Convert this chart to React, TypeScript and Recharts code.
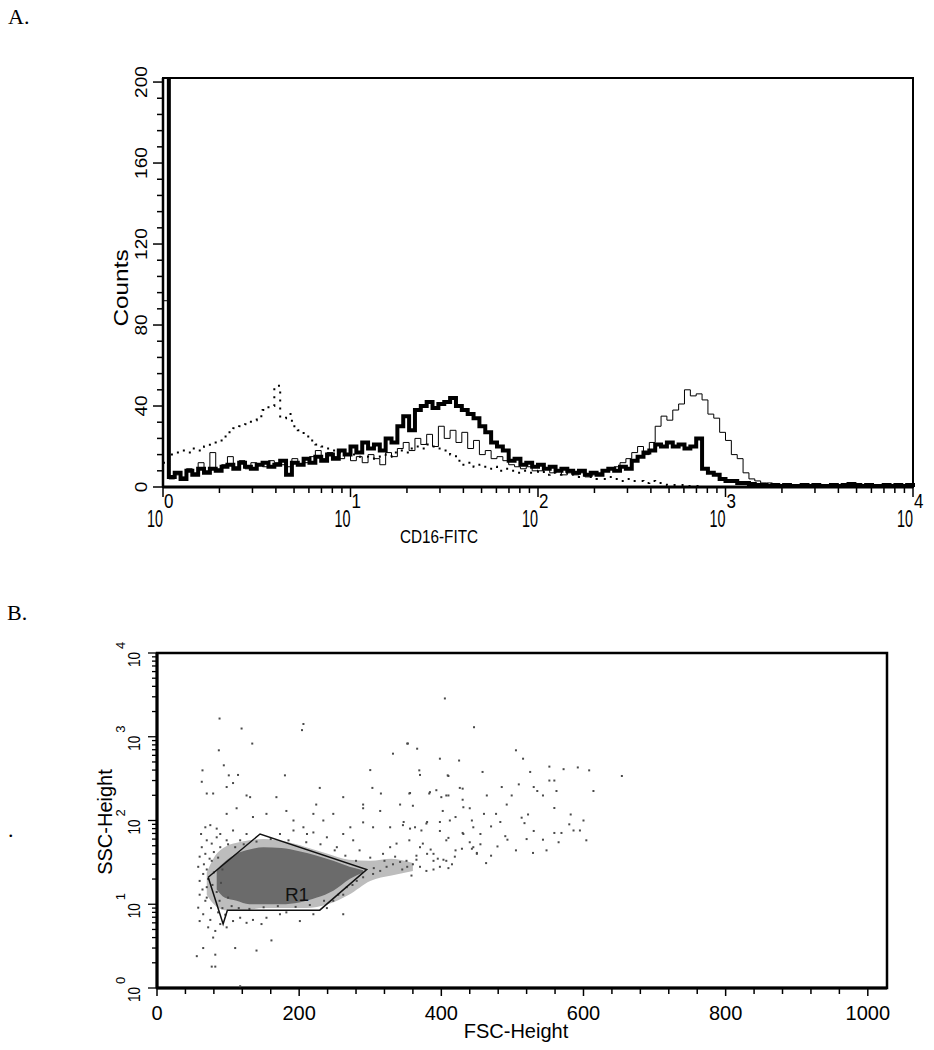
import {
  Area,
  ComposedChart,
  Line,
  ReferenceArea,
  ReferenceDot,
  Scatter,
  XAxis,
  YAxis,
} from 'recharts'

const FONT = '"Liberation Sans", Arial, sans-serif'

// ---- Panel A: CD16-FITC histogram (1024 channels over 4 decades, 8-channel bins)
const CHANNELS_PER_DECADE = 256
const BIN_WIDTH = 8

const thickCounts = [
  230, 5, 7, 4, 8, 6, 9, 7, 9, 8,
  10, 11, 9, 12, 10, 9, 11, 12, 10, 11,
  13, 6, 12, 11, 14, 12, 15, 13, 16, 14,
  18, 16, 20, 17, 22, 19, 21, 18, 24, 22,
  30, 35, 28, 38, 40, 42, 39, 41, 42, 44,
  40, 38, 36, 34, 30, 27, 22, 20, 18, 13,
  14, 11, 12, 10, 11, 9, 10, 8, 9, 8,
  7, 8, 6, 7, 6, 8, 9, 8, 10, 9,
  13, 15, 17, 18, 21, 20, 22, 20, 21, 19,
  20, 24, 9, 7, 6, 4, 3, 3, 2, 2,
  1.5, 1, 1, 0.5, 1, 0.5, 1, 0.5, 0.5, 1,
  0.5, 1, 0.5, 0.5, 1, 0.5, 1, 1.5, 1, 0.5,
  1, 0.5, 0.5, 1, 0.5, 1, 0.5, 1, 2,
]

const thinCounts = [
  92, 4, 6, 5, 9, 7, 12, 8, 17, 9,
  11, 15, 10, 13, 9, 12, 11, 10, 13, 12,
  11, 10, 14, 11, 12, 15, 18, 14, 17, 15,
  14, 16, 13, 15, 12, 16, 14, 11, 17, 15,
  19, 22, 18, 24, 21, 26, 20, 30, 24, 28,
  22, 27, 19, 23, 16, 18, 14, 15, 13, 11,
  10, 9, 10, 8, 8, 9, 7, 8, 6, 7,
  6, 7, 5, 6, 7, 8, 9, 10, 12, 14,
  17, 20, 16, 22, 30, 35, 33, 38, 41, 48,
  45, 46, 43, 36, 34, 27, 23, 16, 14, 7,
  4, 3, 2, 2, 1, 1, 0.5, 1, 0.5, 0.5,
  0.5, 1, 0.5, 0.5, 0.5, 1, 0.5, 1, 0.5, 0.5,
  0.5, 0.5, 1, 0.5, 0.5, 0.5, 0.5, 0.5, 1,
]

const dottedCounts = [
  12, 16, 17, 18, 17, 19, 18, 20, 22, 23,
  25, 27, 29, 30, 31, 33, 35, 38, 40, 50,
  34, 36, 30, 28, 25, 23, 21, 20, 19, 18,
  17, 16, 16, 15, 15, 14, 15, 16, 15, 17,
  18, 17, 19, 20, 19, 21, 20, 19, 18, 16,
  13, 11, 12, 10, 11, 9, 10, 8, 9, 8,
  7, 8, 7, 7, 8, 6, 7, 6, 7, 6,
  5, 6, 5, 5, 4, 4, 5, 4, 3, 4,
  3, 3, 2, 3, 2, 2, 1, 1, 1, 0.5,
  0.5, 0.5, 0, 0, 0, 0, 0, 0, 0, 0,
  0, 0, 0, 0, 0, 0, 0, 0, 0, 0,
  0, 0, 0, 0, 0, 0, 0, 0, 0, 0,
  0, 0, 0, 0, 0, 0, 0, 0, 0,
]

const histData = thickCounts.map((c, i) => ({
  ch: i * BIN_WIDTH,
  thick: c,
  thin: thinCounts[i],
  dotted: dottedCounts[i],
}))

const decades = [0, 1, 2, 3]
const minorSteps = [1, 2, 3, 4, 5, 6, 7, 8, 9]
const histTicks = [
  ...decades.flatMap((d) => minorSteps.map((k) => CHANNELS_PER_DECADE * (d + Math.log10(k)))),
  4 * CHANNELS_PER_DECADE,
]
const countTicks = Array.from({ length: 26 }, (_, i) => i * 8)

// ---- Panel B: FSC vs SSC dot plot with R1 gate
// dense core of events (dark) and the speckled zone around it (light)
const coreFsc = [84, 95, 112, 130, 150, 175, 200, 225, 248, 271, 290]
const coreLow = [15, 12, 11, 10, 10, 10, 10.5, 12, 14.5, 20, 24]
const coreHigh = [26, 32, 40, 45, 48, 47, 43, 38, 33, 28, 25.5]
const haloFsc = [70, 80, 95, 120, 150, 180, 210, 240, 270, 300, 330, 360]
const haloLow = [13, 10, 8.5, 8.5, 9, 9, 9, 10, 13, 19, 22, 25]
const haloHigh = [24, 36, 48, 56, 60, 56, 48, 40, 34, 33, 35, 31]

const coreData = [
  ...haloFsc.map((f, i) => ({ fsc: f, halo: [haloLow[i], haloHigh[i]] })),
  ...coreFsc.map((f, i) => ({ fsc: f, core: [coreLow[i], coreHigh[i]] })),
].sort((a, b) => a.fsc - b.fsc)

const gateR1: [number, number][] = [
  [72, 21], [93, 5.8], [99, 8.5], [229, 8.5], [295, 26], [145, 69], [72, 21],
]

const events: [number, number][] = [
  [88, 1650], [119, 1254], [134, 829], [206, 1420], [204, 1200], [405, 2866], [332, 628],
  [353, 830], [366, 720], [398, 547], [409, 346], [426, 245], [370, 350], [300, 400],
  [64, 397], [94, 456], [87, 689], [101, 346], [114, 350], [180, 346], [229, 245],
  [262, 190], [303, 245], [315, 210], [355, 210], [384, 218], [393, 230], [400, 190],
  [407, 199], [63, 290], [70, 210], [79, 210], [98, 251], [107, 280], [126, 199],
  [131, 190], [168, 190], [224, 155], [290, 155], [290, 140], [314, 130], [342, 155],
  [360, 150], [402, 130], [431, 144], [98, 120], [112, 140], [135, 110], [154, 120],
  [182, 130], [192, 100], [206, 83], [220, 120], [234, 100], [248, 120], [272, 83],
  [290, 95], [304, 83], [328, 83], [346, 88], [363, 83], [379, 92], [398, 75], [412, 100],
  [445, 83], [62, 69], [68, 83], [75, 88], [84, 80], [70, 58], [77, 53], [84, 63], [63, 48],
  [89, 48], [60, 37], [68, 40], [77, 33], [58, 28], [65, 23], [60, 19], [70, 16], [60, 13],
  [68, 11], [58, 9.1], [65, 7.6], [75, 6.5], [60, 6.3], [72, 5.3], [82, 4.8], [89, 5.8],
  [79, 4.0], [65, 3.0], [56, 2.4], [77, 1.8], [82, 1.8], [82, 2.5], [110, 3.0], [140, 2.8],
  [161, 3.7], [98, 5.3], [107, 6.3], [117, 6.9], [126, 6.0], [135, 6.5], [147, 5.8],
  [154, 6.9], [173, 7.6], [182, 8], [201, 6.3], [220, 7.6], [239, 9], [262, 7.6], [248, 11],
  [262, 13], [267, 16], [281, 19], [304, 23], [314, 25], [323, 28], [332, 30], [342, 32],
  [351, 33], [360, 30], [370, 28], [379, 25], [389, 33], [398, 28], [407, 33], [300, 36],
  [318, 40], [328, 48], [337, 53], [355, 58], [374, 53], [389, 40], [407, 58], [431, 69],
  [445, 48], [450, 40], [107, 76], [117, 58], [126, 69], [98, 58], [89, 69], [173, 69],
  [192, 76], [211, 69], [220, 72], [239, 63], [253, 48], [262, 69], [276, 58], [285, 44],
  [446, 1300], [352, 829], [425, 520], [505, 689], [515, 547], [369, 397], [410, 340],
  [458, 380], [525, 380], [552, 440], [572, 410], [592, 430], [608, 397], [614, 225],
  [654, 340], [356, 213], [383, 210], [410, 199], [430, 240], [430, 177], [464, 199],
  [485, 251], [499, 199], [509, 270], [530, 251], [535, 225], [543, 199], [552, 300],
  [559, 300], [562, 225], [492, 155], [559, 141], [582, 118], [522, 118], [477, 120],
  [483, 96], [513, 108], [517, 93], [443, 100], [398, 96], [380, 96], [347, 96], [356, 80],
  [372, 76], [410, 62], [430, 71], [455, 69], [559, 71], [569, 71], [586, 76], [595, 76],
  [604, 58], [565, 55], [543, 59], [493, 59], [479, 49], [455, 52], [443, 46], [429, 46],
  [450, 41], [505, 44], [529, 41], [548, 44], [463, 31], [419, 37], [410, 27], [403, 34],
  [389, 26], [380, 40], [365, 34], [352, 28], [370, 48], [117, 1.05],
  [66, 30], [70, 26], [74, 35], [80, 42], [86, 36], [92, 26], [72, 20], [78, 17], [84, 14],
  [88, 11], [92, 9], [96, 7.5], [70, 12], [64, 15], [76, 9], [86, 8], [80, 24], [90, 18],
  [100, 52], [110, 48], [122, 52], [140, 56], [160, 60], [185, 58], [210, 55], [230, 52],
  [250, 44], [265, 38], [280, 33], [100, 12], [105, 9.5], [115, 9], [130, 8.8], [150, 9.2],
  [170, 9.5], [195, 9.3], [215, 9.8], [235, 11], [255, 13], [275, 17], [290, 21], [305, 27],
  [320, 33], [335, 37], [345, 26], [358, 22], [365, 38], [385, 45], [395, 35], [415, 30],
  [420, 44], [440, 55], [470, 38], [490, 65], [520, 60], [530, 75], [580, 90], [600, 100],
  [470, 85], [440, 140], [460, 120], [420, 110],
]

const eventData = events.map(([fsc, ssc]) => ({ fsc, ssc }))
const gateData = gateR1.map(([fsc, ssc]) => ({ fsc, ssc }))

const fscTicks = Array.from({ length: 26 }, (_, i) => i * 40)
const sscTicks = [...decades.flatMap((d) => minorSteps.map((k) => k * 10 ** d)), 10000]

// ---- tick renderers (tickSize/tickMargin are 0 so x,y sit on the axis line)
// the original scan has narrow, tall digits, so labels are squeezed with scale()
function HistXTick({ x, y, payload }: any) {
  const dec = payload.value / CHANNELS_PER_DECADE
  const major = Math.abs(dec - Math.round(dec)) < 1e-6
  return (
    <g>
      <line x1={x} x2={x} y1={y} y2={y + (major ? 10 : 6)} stroke="#000" strokeWidth={1.5} />
      {major && (
        <g fontFamily={FONT} fill="#000">
          <text transform={`translate(${x} ${y + 40}) scale(0.6 1)`} textAnchor="end"
            fontSize={24}>10</text>
          <text transform={`translate(${x + 1} ${y + 21}) scale(0.85 1)`} fontSize={20}>
            {Math.round(dec)}
          </text>
        </g>
      )}
    </g>
  )
}

function CountTick({ x, y, payload }: any) {
  const v = payload.value
  const major = v % 40 === 0
  return (
    <g>
      <line x1={x} x2={x - (major ? 10 : 6)} y1={y} y2={y} stroke="#000" strokeWidth={1.5} />
      {major && (
        <text transform={`translate(${x - 16} ${y}) rotate(-90) scale(1.12 1)`}
          textAnchor="middle" fontSize={17} fontFamily={FONT} fill="#000">{v}</text>
      )}
    </g>
  )
}

function FscTick({ x, y, payload }: any) {
  const v = payload.value
  const major = v % 200 === 0
  return (
    <g>
      <line x1={x} x2={x} y1={y} y2={y + (major ? 8 : 6)} stroke="#000" strokeWidth={1.5} />
      {major && (
        <text x={x} y={y + 32} textAnchor="middle" fontSize={20} fontFamily={FONT} fill="#000">{v}</text>
      )}
    </g>
  )
}

function SscTick({ x, y, payload }: any) {
  const exp = Math.log10(payload.value)
  const major = Math.abs(exp - Math.round(exp)) < 1e-6
  return (
    <g>
      <line x1={x} x2={x - (major ? 9 : 5)} y1={y} y2={y} stroke="#000" strokeWidth={1.3} />
      {major && (
        <g fontFamily={FONT} fill="#000">
          <text transform={`translate(${x - 17} ${y + 14}) rotate(-90) scale(0.8 1)`}
            fontSize={17}>10</text>
          <text transform={`translate(${x - 32} ${y - 4}) rotate(-90)`} fontSize={13}>
            {Math.round(exp)}
          </text>
        </g>
      )}
    </g>
  )
}

const EventDot = (p: any) => <rect x={p.cx - 1} y={p.cy - 1} width={2} height={2} fill="#4a4a4a" />
const NoDot = () => <g />

function HistogramPanel() {
  return (
    <ComposedChart width={934} height={560} data={histData}
      margin={{ top: 78, right: 21, bottom: 23, left: 103 }}>
      <XAxis dataKey="ch" type="number" domain={[0, 1024]} ticks={histTicks} interval={0}
        height={50} tickSize={0} tickMargin={0} tick={HistXTick}
        axisLine={{ stroke: '#000', strokeWidth: 3 }} />
      <YAxis type="number" domain={[0, 202]} allowDataOverflow ticks={countTicks} interval={0}
        width={60} tickSize={0} tickMargin={0} tick={CountTick}
        axisLine={{ stroke: '#000', strokeWidth: 2.5 }} />
      <ReferenceArea x1={0} x2={1024} y1={0} y2={202} fill="none" fillOpacity={0}
        stroke="#000" strokeWidth={2} />
      <Line dataKey="dotted" type="stepAfter" stroke="#000" strokeWidth={2}
        strokeDasharray="2 6" dot={false} isAnimationActive={false} />
      <Line dataKey="thin" type="stepAfter" stroke="#000" strokeWidth={1}
        dot={false} isAnimationActive={false} />
      <Line dataKey="thick" type="stepAfter" stroke="#000" strokeWidth={4}
        dot={false} isAnimationActive={false} />
    </ComposedChart>
  )
}

function ScatterPanel() {
  return (
    <ComposedChart width={934} height={450} data={coreData}
      margin={{ top: 53, right: 47, bottom: 12, left: 97 }}>
      <XAxis dataKey="fsc" type="number" domain={[0, 1027]} ticks={fscTicks} interval={0}
        height={50} tickSize={0} tickMargin={0} tick={FscTick}
        axisLine={{ stroke: '#000', strokeWidth: 3 }} />
      <YAxis dataKey="ssc" type="number" scale="log" domain={[1, 10000]} allowDataOverflow
        ticks={sscTicks} interval={0} width={60} tickSize={0} tickMargin={0} tick={SscTick}
        axisLine={{ stroke: '#000', strokeWidth: 3 }} />
      <ReferenceArea x1={0} x2={1027} y1={1} y2={10000} fill="none" fillOpacity={0}
        stroke="#000" strokeWidth={2.5} />
      <Area dataKey="halo" type="monotone" stroke="none" fill="#bdbdbd" fillOpacity={1}
        connectNulls isAnimationActive={false} />
      <Scatter data={eventData} shape={EventDot} isAnimationActive={false} />
      <Area dataKey="core" type="monotone" stroke="none" fill="#6b6b6b" fillOpacity={1}
        connectNulls isAnimationActive={false} />
      <Scatter data={gateData} shape={NoDot} line={{ stroke: '#111', strokeWidth: 1.5 }}
        isAnimationActive={false} />
      <ReferenceDot x={197} y={13.2} r={0} fill="none" stroke="none"
        label={{ value: 'R1', position: 'center', fontSize: 19, fill: '#111', fontFamily: FONT }} />
    </ComposedChart>
  )
}

export default function App() {
  const abs = { position: 'absolute' as const, left: 0 }
  return (
    <div style={{ ...abs, top: 0, width: 934, height: 1050 }}>
      <div style={{ ...abs, top: 0 }}>
        <HistogramPanel />
      </div>
      <div style={{ ...abs, top: 600 }}>
        <ScatterPanel />
      </div>
      <svg width={934} height={1050} style={{ ...abs, top: 0, pointerEvents: 'none' }}>
        <g fontFamily='"Liberation Serif", "Times New Roman", serif' fontSize={22} fill="#000">
          <text x={8} y={24}>A.</text>
          <text x={7} y={620}>B.</text>
          <text x={8} y={837}>.</text>
        </g>
        <g fontFamily={FONT} fill="#000">
          <text transform="translate(128 288) rotate(-90) scale(1.16 1)" textAnchor="middle"
            fontSize={21}>Counts</text>
          <text transform="translate(439 543) scale(0.85 1)" textAnchor="middle"
            fontSize={18}>CD16-FITC</text>
          <text x={112} y={822} transform="rotate(-90 112 822)" textAnchor="middle"
            fontSize={20}>SSC-Height</text>
          <text x={516} y={1038} textAnchor="middle" fontSize={20}>FSC-Height</text>
        </g>
      </svg>
    </div>
  )
}
